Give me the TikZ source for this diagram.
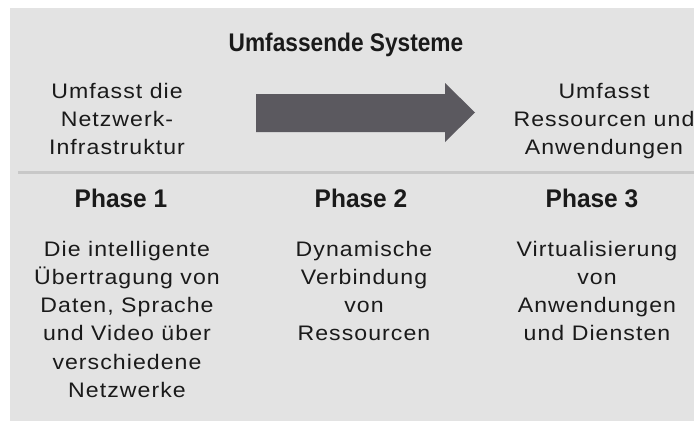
\documentclass[tikz,border=0pt]{standalone}
\usepackage{fontspec}
\setmainfont{Liberation Sans}[FakeStretch=1.1, LetterSpace=5]
\newfontfamily\hdfont{Liberation Sans Bold}[FakeStretch=0.89]
\newfontfamily\phfont{Liberation Sans Bold}[FakeStretch=0.96]
\definecolor{bgray}{HTML}{E3E3E3}
\definecolor{sepgray}{HTML}{C8C8C8}
\definecolor{arrowgray}{HTML}{5B595F}
\definecolor{txt}{HTML}{1A1A1A}
\begin{document}
\begin{tikzpicture}[x=1pt,y=-1pt,
  body/.style={text=txt, inner sep=0pt, align=center, anchor=base,
    font=\fontsize{21}{28.3}\selectfont},
  head/.style={text=txt, inner sep=0pt, anchor=base,
    font=\hdfont\fontsize{25.5}{30}\selectfont},
  phase/.style={text=txt, inner sep=0pt, anchor=base,
    font=\phfont\fontsize{25.5}{30}\selectfont}]
\useasboundingbox (0,0) rectangle (694,421);
\fill[white] (0,0) rectangle (694,421);
\fill[bgray] (10,8) rectangle (694,421);
\node[head] (title) at (346,51) {Umfassende Systeme};
% base anchor of a multi-line node = baseline of its last line
\node[body] (left) at (117,154.6) {Umfasst die\\Netzwerk-\\Infrastruktur};
\node[body] (right) at (604,154.6) {Umfasst\\Ressourcen und\\Anwendungen};
\fill[arrowgray] (256,94) -- (445,94) -- (445,83) -- (475,112.5) -- (445,142) -- (445,132) -- (256,132) -- cycle;
\coordinate (sepL) at (18,172);
\coordinate (sepR) at (694,172);
\draw[sepgray, line width=3pt] (sepL) -- (sepR);
\node[phase] (p1) at (121,207) {Phase 1};
\node[phase] (p2) at (361,207) {Phase 2};
\node[phase] (p3) at (592,207) {Phase 3};
\node[body] (c1) at (127,397.5) {Die intelligente\\Übertragung von\\Daten, Sprache\\und Video über\\verschiedene\\Netzwerke};
\node[body] (c2) at (364,340.9) {Dynamische\\Verbindung\\von\\Ressourcen};
\node[body] (c3) at (597,340.9) {Virtualisierung\\von\\Anwendungen\\und Diensten};
\end{tikzpicture}
\end{document}
